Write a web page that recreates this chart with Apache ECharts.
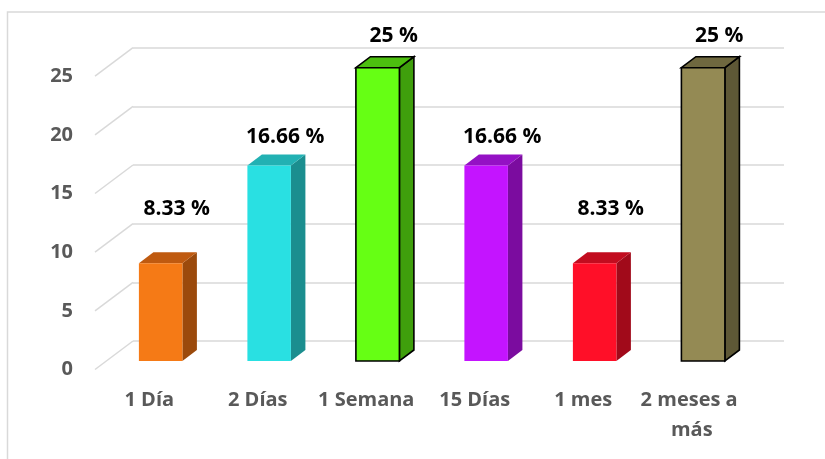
<!DOCTYPE html>
<html>
<head>
<meta charset="utf-8">
<script src="https://cdn.jsdelivr.net/npm/echarts@6/dist/echarts.min.js"></script>
<style>
  html, body { margin: 0; padding: 0; background: #fff; }
  #chart { width: 825px; height: 459px; }
</style>
</head>
<body>
<div id="chart"></div>
<script>
// data
const categories = ["1 Día", "2 Días", "1 Semana", "15 Días", "1 mes", "2 meses a más"];
const values = [8.33, 16.66, 25, 16.66, 8.33, 25];
const valueLabels = ["8.33 %", "16.66 %", "25 %", "16.66 %", "8.33 %", "25 %"];
const yTicks = [0, 5, 10, 15, 20, 25];

// bar faces: front, top, side
const faceColors = [
  ["#f57a16", "#bf5a10", "#9b4a0c"],
  ["#29e0e2", "#22b1b3", "#1b8e8f"],
  ["#66ff14", "#4cbf0f", "#3f9f0c"],
  ["#c414ff", "#9411c4", "#7b0c9f"],
  ["#ff0f28", "#c20c1f", "#a10a1a"],
  ["#948a54", "#6f683f", "#5e5836"]
];
const outlined = [false, false, true, false, false, true];
// how far above the bar the label sits (px), like the source
const labelRise = [54, 29, 32, 29, 54, 32];

const DEPTH_X = 38, DEPTH_Y = 28.5;   // wall depth
const OFF_X = 11.4, OFF_Y = 8.5;      // bar front face inside the depth
const BAR_W = 43.5, BAR_DX = 14.5, BAR_DY = 11;

const chart = echarts.init(document.getElementById("chart"));

const axisFont = {
  color: "#595959",
  fontFamily: "Open Sans",
  fontWeight: "bold",
  fontSize: 20
};

const option = {
  animation: false,
  graphic: [{
    type: "rect",
    shape: { x: 7.5, y: 12, width: 900, height: 500 },
    style: { fill: "none", stroke: "#d9d9d9", lineWidth: 1.5 },
    silent: true
  }],
  grid: [
    // back wall
    { left: 133, right: 41, top: 47.7, bottom: 118 },
    // front plane
    { left: 95, right: 79, top: 76.2, bottom: 89.5 }
  ],
  xAxis: [
    { gridIndex: 0, type: "value", min: 0, max: 1, show: false },
    {
      gridIndex: 1,
      type: "category",
      data: categories,
      axisLine: { show: false },
      axisTick: { show: false },
      axisLabel: Object.assign({
        margin: 16,
        lineHeight: 30,
        width: 104,
        overflow: "break",
        interval: 0
      }, axisFont)
    }
  ],
  yAxis: [
    {
      gridIndex: 0,
      type: "value",
      min: 0, max: 25, interval: 5,
      axisLine: { show: false },
      axisTick: { show: false },
      axisLabel: { show: false },
      splitLine: { lineStyle: { color: "#d9d9d9", width: 1.5 } }
    },
    {
      gridIndex: 1,
      type: "value",
      min: 0, max: 25, interval: 5,
      axisLine: { show: false },
      axisTick: { show: false },
      splitLine: { show: false },
      axisLabel: Object.assign({ margin: 22 }, axisFont)
    }
  ],
  series: [
    {
      // the side wall lines from the back grid to the axis labels
      type: "custom",
      xAxisIndex: 0,
      yAxisIndex: 0,
      silent: true,
      data: yTicks.map(function (t) { return [0, t]; }),
      renderItem: function (params, api) {
        const p = api.coord([0, api.value(1)]);
        return {
          type: "line",
          shape: { x1: p[0], y1: p[1], x2: p[0] - DEPTH_X, y2: p[1] + DEPTH_Y },
          style: { stroke: "#d9d9d9", lineWidth: 1.5 }
        };
      }
    },
    {
      type: "custom",
      xAxisIndex: 1,
      yAxisIndex: 1,
      data: values.map(function (v, i) { return [i, v]; }),
      renderItem: function (params, api) {
        const i = params.dataIndex;
        const base = api.coord([i, 0]);
        const top = api.coord([i, api.value(1)]);
        const x0 = base[0] + OFF_X - BAR_W / 2;
        const x1 = x0 + BAR_W;
        const yb = base[1] - OFF_Y;
        const yt = top[1] - OFF_Y;
        const c = faceColors[i];
        const stroke = outlined[i] ? "#000" : null;
        const lw = outlined[i] ? 1.6 : 0;
        return {
          type: "group",
          children: [
            {
              type: "polygon",
              shape: { points: [[x1, yt], [x1 + BAR_DX, yt - BAR_DY], [x1 + BAR_DX, yb - BAR_DY], [x1, yb]] },
              style: { fill: c[2], stroke: stroke, lineWidth: lw }
            },
            {
              type: "polygon",
              shape: { points: [[x0, yt], [x0 + BAR_DX, yt - BAR_DY], [x1 + BAR_DX, yt - BAR_DY], [x1, yt]] },
              style: { fill: c[1], stroke: stroke, lineWidth: lw }
            },
            {
              type: "rect",
              shape: { x: x0, y: yt, width: BAR_W, height: yb - yt },
              style: { fill: c[0], stroke: stroke, lineWidth: lw }
            },
            {
              type: "text",
              x: base[0] + OFF_X + 16,
              y: yt - labelRise[i],
              style: {
                text: valueLabels[i],
                fill: "#000",
                font: "bold 21px 'Open Sans'",
                align: "center",
                verticalAlign: "middle"
              }
            }
          ]
        };
      }
    }
  ]
};

chart.setOption(option);
</script>
</body>
</html>
